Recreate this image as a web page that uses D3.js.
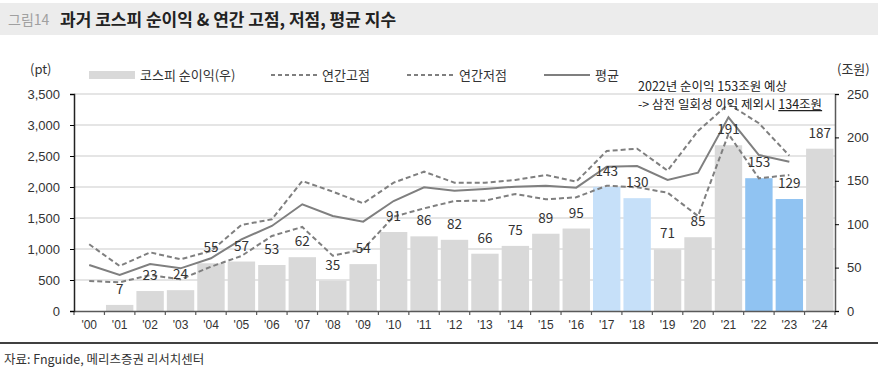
<!DOCTYPE html>
<html>
<head>
<meta charset="utf-8">
<script src="https://cdn.jsdelivr.net/npm/d3@7"></script>
<style>
  body { margin: 0; background: #fff; }
  svg { display: block; font-family: "Noto Sans CJK KR", "Noto Sans", sans-serif; }
</style>
</head>
<body>
<svg></svg>
<script>
const years = ["'00","'01","'02","'03","'04","'05","'06","'07","'08","'09","'10","'11","'12",
               "'13","'14","'15","'16","'17","'18","'19","'20","'21","'22","'23","'24"];
// 코스피 순이익 (조원, 우축)
const profit = [0, 7, 23, 24, 55, 57, 53, 62, 35, 54, 91, 86, 82, 66, 75, 89, 95, 143, 130, 71, 85, 191, 153, 129, 187];
// 연간고점 / 연간저점 / 평균 (pt, 좌축)
const high = [1076, 726, 946, 834, 968, 1387, 1479, 2097, 1925, 1737, 2070, 2247, 2070, 2070, 2113, 2194, 2086, 2581, 2618, 2263, 2904, 3339, 3028, 2505, null];
const low  = [484, 463, 580, 511, 715, 887, 1210, 1355, 892, 995, 1521, 1656, 1774, 1780, 1887, 1801, 1834, 2021, 1995, 1908, 1532, 2855, 2140, 2194, null];
const avg  = [742, 580, 758, 688, 850, 1156, 1371, 1721, 1532, 1441, 1774, 1995, 1941, 1968, 2005, 2021, 1989, 2328, 2339, 2113, 2231, 3124, 2516, 2408, null];
const leftTicks = [0, 500, 1000, 1500, 2000, 2500, 3000, 3500];
const rightTicks = [0, 50, 100, 150, 200, 250];
const lightBlue = ["'17", "'18"];
const midBlue = ["'22", "'23"];

const width = 878, height = 375;
const margin = { top: 94, right: 43, bottom: 64, left: 74 };

const svg = d3.select("svg").attr("width", width).attr("height", height);

// 제목
svg.append("rect").attr("x", 0).attr("y", 3).attr("width", width).attr("height", 32).attr("fill", "#ececec");
svg.append("text").attr("x", 8).attr("y", 25).attr("font-size", 14).attr("fill", "#a0a0a0").text("그림14");
svg.append("text").attr("x", 60).attr("y", 25.5).attr("font-size", 17).attr("font-weight", "bold")
   .attr("fill", "#222").text("과거 코스피 순이익 & 연간 고점, 저점, 평균 지수");

const x = d3.scaleBand()
    .domain(years)
    .range([margin.left, width - margin.right])
    .paddingInner(0.1)
    .paddingOuter(0.05);

const yL = d3.scaleLinear().domain([0, 3500]).range([height - margin.bottom, margin.top]);
const yR = d3.scaleLinear().domain([0, 250]).range([height - margin.bottom, margin.top]);

// 격자
svg.append("g").selectAll("line")
   .data(leftTicks.slice(1))
   .join("line")
   .attr("x1", margin.left).attr("x2", width - margin.right)
   .attr("y1", d => yL(d)).attr("y2", d => yL(d))
   .attr("stroke", "#dcdcdc").attr("stroke-width", 1.3);

// 막대
const data = years.map((yr, i) => ({ yr, p: profit[i], h: high[i], l: low[i], a: avg[i] }));
svg.append("g").selectAll("rect")
   .data(data)
   .join("rect")
   .attr("x", d => x(d.yr))
   .attr("y", d => yR(d.p))
   .attr("width", x.bandwidth())
   .attr("height", d => yR(0) - yR(d.p))
   .attr("fill", d => lightBlue.includes(d.yr) ? "#c6e0f9" : midBlue.includes(d.yr) ? "#90c3f2" : "#d9d9d9");

// 선
const cx = d => x(d.yr) + x.bandwidth() / 2;
function addLine(key, dash) {
  const line = d3.line().defined(d => d[key] != null).x(cx).y(d => yL(d[key]));
  svg.append("path").datum(data).attr("d", line)
     .attr("fill", "none").attr("stroke", "#7f7f7f").attr("stroke-width", 2)
     .attr("stroke-dasharray", dash);
}
addLine("h", "5,3");
addLine("l", "5,3");
addLine("a", null);

// 막대 라벨
svg.append("g").selectAll("text")
   .data(data.filter(d => d.p > 0))
   .join("text")
   .attr("x", cx)
   .attr("y", d => yR(d.p) - 11)
   .attr("text-anchor", "middle")
   .attr("font-size", 13.5)
   .attr("fill", "#333")
   .text(d => d.p);

// 축
const xAxis = svg.append("g")
   .attr("transform", `translate(0,${height - margin.bottom})`)
   .call(d3.axisBottom(x).tickSize(0).tickPadding(9));
xAxis.select(".domain").attr("stroke", "#595959").attr("stroke-width", 1.5);
xAxis.selectAll("text").attr("font-size", 12).attr("fill", "#333").attr("font-family", "inherit");
// 구간 경계 눈금
const step = x.step();
xAxis.selectAll(".sep")
   .data(d3.range(years.length + 1))
   .join("line")
   .attr("x1", i => margin.left + x.paddingOuter() * step + i * step - x.paddingInner() * step / 2)
   .attr("x2", i => margin.left + x.paddingOuter() * step + i * step - x.paddingInner() * step / 2)
   .attr("y1", 0).attr("y2", 4)
   .attr("stroke", "#595959").attr("stroke-width", 1.2);

const leftAxis = svg.append("g")
   .attr("transform", `translate(${margin.left},0)`)
   .call(d3.axisLeft(yL).tickValues(leftTicks).tickFormat(d3.format(",")).tickSize(4).tickPadding(10));
leftAxis.select(".domain").attr("stroke", "#222").attr("stroke-width", 1.5);
leftAxis.selectAll("text").attr("font-size", 13).attr("fill", "#333").attr("font-family", "inherit");

const rightAxis = svg.append("g")
   .attr("transform", `translate(${width - margin.right},0)`)
   .call(d3.axisRight(yR).tickValues(rightTicks).tickSize(4).tickPadding(8));
rightAxis.select(".domain").attr("stroke", "#595959").attr("stroke-width", 1.5);
rightAxis.selectAll("text").attr("font-size", 13).attr("fill", "#333").attr("font-family", "inherit");

// 단위
svg.append("text").attr("x", 30).attr("y", 74).attr("font-size", 13).attr("fill", "#333").text("(pt)");
svg.append("text").attr("x", 837).attr("y", 74).attr("font-size", 13).attr("fill", "#333").text("(조원)");

// 범례
const lg = svg.append("g").attr("font-size", 13).attr("fill", "#333");
lg.append("rect").attr("x", 89).attr("y", 71).attr("width", 46).attr("height", 8).attr("fill", "#d9d9d9");
lg.append("text").attr("x", 140).attr("y", 80).text("코스피 순이익(우)");
[[271, 322, "연간고점", "4,3"], [407, 459, "연간저점", "4,3"], [544, 595, "평균", null]].forEach(([x0, tx, label, dash]) => {
  lg.append("line").attr("x1", x0).attr("x2", x0 + 46).attr("y1", 75).attr("y2", 75)
    .attr("stroke", "#7f7f7f").attr("stroke-width", 1.8).attr("stroke-dasharray", dash);
  lg.append("text").attr("x", tx).attr("y", 80).text(label);
});

// 주석
const note = svg.append("g").attr("font-size", 12.5).attr("fill", "#222");
note.append("text").attr("x", 638).attr("y", 91).text("2022년 순이익 153조원 예상");
const n2 = note.append("text").attr("x", 638).attr("y", 109);
n2.append("tspan").text("-> 삼전 일회성 이익 제외시 ");
n2.append("tspan").attr("text-decoration", "underline").text("134조원");

// 출처
svg.append("line").attr("x1", 0).attr("x2", width).attr("y1", 343).attr("y2", 343).attr("stroke", "#000").attr("stroke-width", 1.5);
svg.append("text").attr("x", 4).attr("y", 364).attr("font-size", 12.5).attr("fill", "#333").text("자료: Fnguide, 메리츠증권 리서치센터");
</script>
</body>
</html>
